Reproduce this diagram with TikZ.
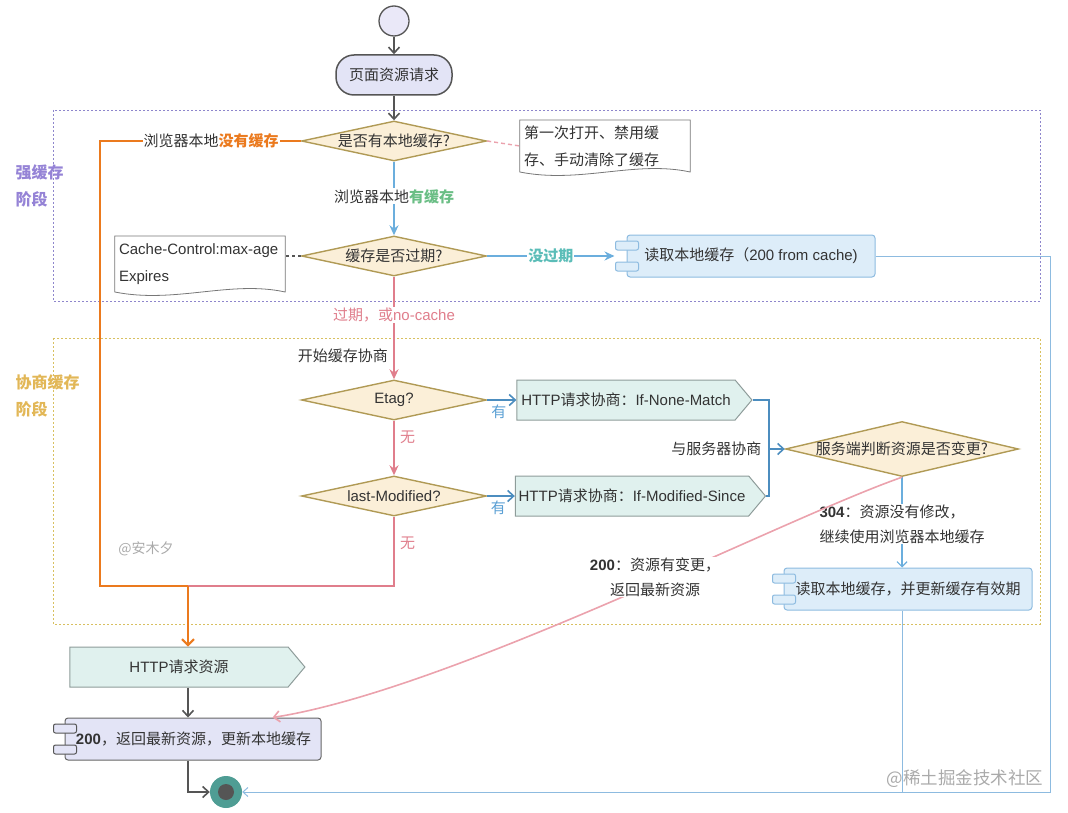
\documentclass[tikz,border=0pt]{standalone}
\usepackage{fontspec}
\setmainfont{Noto Sans CJK SC}
\newfontfamily\latfont{Liberation Sans}
\newcommand{\en}[1]{{\latfont #1}}
\usetikzlibrary{shapes.geometric,shapes.symbols,arrows.meta,calc}

\definecolor{txt}{HTML}{333333}
\definecolor{dgray}{HTML}{555555}
\definecolor{startfill}{HTML}{EAE8F8}
\definecolor{lavfill}{HTML}{E3E4F6}
\definecolor{askfill}{HTML}{FBEFD8}
\definecolor{askline}{HTML}{B09A55}
\definecolor{orng}{HTML}{EB7A1E}
\definecolor{skyline}{HTML}{6BAEDD}
\definecolor{skyfill}{HTML}{DDEDF9}
\definecolor{skyedge}{HTML}{8DBBE0}
\definecolor{steel}{HTML}{4C8DBF}
\definecolor{yesblue}{HTML}{5A9FD4}
\definecolor{rose}{HTML}{E07E8C}
\definecolor{roselight}{HTML}{EBA2AD}
\definecolor{leaf}{HTML}{6ABE85}
\definecolor{tealtxt}{HTML}{5BBDB8}
\definecolor{purp}{HTML}{9583D6}
\definecolor{purpdot}{HTML}{8E86CC}
\definecolor{goldt}{HTML}{E2B757}
\definecolor{golddot}{HTML}{D8C060}
\definecolor{mint}{HTML}{E0F1EE}
\definecolor{sigline}{HTML}{8E9C9A}
\definecolor{endfill}{HTML}{4F9D94}
\definecolor{wm}{HTML}{AAAAAA}

\begin{document}
\begin{tikzpicture}[x=1pt,y=-1pt,font=\fontsize{15}{18}\selectfont,text=txt]
  \tikzset{ start/.style={circle,draw=dgray,fill=startfill,line width=1.3pt,minimum size=30pt,inner sep=0pt},
    act/.style={rectangle,rounded corners=18pt,draw=dgray,fill=lavfill,line width=1.5pt,minimum width=116pt,minimum height=40pt},
    ask/.style={diamond,draw=askline,fill=askfill,line width=1.4pt,minimum width=185pt,minimum height=40pt,inner sep=0pt},
    sig/.style={signal,signal to=east,signal pointer angle=100,draw=sigline,fill=mint,line width=1pt,minimum height=40pt},
    comp/.style={rectangle,rounded corners=3pt,line width=1pt,minimum height=42pt},
    note/.style={align=left,text width=162pt,inner xsep=4pt,inner ysep=0pt,font=\fontsize{15}{27}\selectfont},
    paper/.style={draw=dgray!80,line width=0.8pt},
    stage/.style={anchor=west,align=left,font=\bfseries\fontsize{16}{27}\selectfont},
    tag/.style={fill=white,inner sep=1pt},
    barb/.style={-{Straight Barb[length=6pt,width=11pt,line width=1.6pt]}},
    sharp/.style={-{Stealth[length=10pt,width=9pt]}},
    gline/.style={draw=dgray,line width=1.5pt,barb},
    oline/.style={draw=orng,line width=2pt},
    bline/.style={draw=skyline,line width=1.6pt,sharp},
    dbline/.style={draw=steel,line width=1.6pt},
    pline/.style={draw=rose,line width=1.6pt},
    rline/.style={draw=skyedge,line width=1pt},
  }
  \useasboundingbox (0,0) rectangle (1068,813);

  % the two stages
  \draw[purpdot,line width=0.8pt,dash pattern=on 2pt off 2pt] (53,110) rectangle (1040,301);
  \draw[golddot,line width=0.8pt,dash pattern=on 2pt off 2pt] (53,338) rectangle (1040,624);
  \node[stage,text=purp] (strong) at (12,186) {强缓存\\阶段};
  \node[stage,text=goldt] (nego) at (12,396) {协商缓存\\阶段};

  \node[start] (s) at (394,21) {};
  \node[act] (page) at (394,75) {页面资源请求};
  \node[ask,label=center:{是否有本地缓存?}] (q1) at (394,141) {};
  \node[ask,label=center:{缓存是否过期?}] (q2) at (394,256) {};
  \node[note] (n1) at (605,146) {第一次打开、禁用缓\\存、手动清除了缓存};
  \node[note] (n2) at (200,264) {\en{Cache-Control:max-age}\\\en{Expires}};
  \node[comp,draw=skyedge,fill=skyfill,minimum width=248pt] (cache) at (751,256) {读取本地缓存（\en{200 from cache)}};

  \node[ask,label=center:{\en{Etag?}}] (etag) at (394,400) {};
  \node[ask,label=center:{\en{last-Modified?}}] (lm) at (394,496) {};
  \node[sig,minimum width=235pt] (match) at (626,400) {\en{HTTP}请求协商：\en{If-None-Match}};
  \node[sig,minimum width=248pt] (since) at (632,496) {\en{HTTP}请求协商：\en{If-Modified-Since}};
  \node[ask,minimum width=233pt,minimum height=55pt,label=center:{服务端判断资源是否变更?}] (q3) at (902,449) {};
  \node[comp,draw=skyedge,fill=skyfill,minimum width=248pt] (renew) at (908,589) {读取本地缓存，并更新缓存有效期};

  \node[sig,minimum width=235pt] (http) at (179,667) {\en{HTTP}请求资源};
  \node[comp,draw=dgray!90,fill=lavfill,minimum width=256pt,text width=236pt,align=right,inner xsep=5pt] (fresh) at (193,739) {\en{\textbf{200}}，返回最新资源，更新本地缓存};
  \node[circle,fill=endfill,minimum size=32pt,inner sep=0pt,
    path picture={\fill[dgray] (path picture bounding box.center) circle (8pt);}] (e) at (226,792) {};

  \node[text=wm,font=\fontsize{14}{16}\selectfont] (mark) at (146,549) {@安木夕};
  \node[text=wm,font=\fontsize{17.5}{20}\selectfont] (site) at (965,779) {@稀土掘金技术社区};

  % paper outlines and component tabs
  \foreach \n/\w in {n1/26,n2/28}
    \draw[paper] ($(\n.west)+(0,-\w)$) -| ($(\n.east)+(0,\w)$)
      .. controls +(-55,-12) and +(60,12) .. ($(\n.west)+(0,\w)$) -- cycle;
  \foreach \n/\f/\d in {cache/skyfill/skyedge,renew/skyfill/skyedge,fresh/lavfill/dgray} {
    \draw[draw=\d,fill=\f,line width=1pt,rounded corners=2pt] ($(\n.west)+(-11,-15)$) rectangle ++(23,9);
    \draw[draw=\d,fill=\f,line width=1pt,rounded corners=2pt] ($(\n.west)+(-11,6)$) rectangle ++(23,9);
  }

  \coordinate (join) at (188,586);
  \coordinate (fork) at (769,449);

  % the connection between the nodes
  \draw[gline] (s) -- (page);
  \draw[gline] (page) -- (q1);
  \draw[oline] (q1.west) -- ++(-201,0) |- (join);
  \node[tag] (nolocal) at (211,141) {浏览器本地\textcolor{orng}{\textbf{没有缓存}}};
  \draw[draw=roselight,line width=1.4pt,dash pattern=on 4pt off 3pt] (q1.east) -- (n1.west);
  \draw[bline] (q1) -- node[tag,pos=0.47] {浏览器本地\textcolor{leaf}{\textbf{有缓存}}} (q2);
  \draw[draw=dgray,line width=1.5pt,dash pattern=on 3pt off 3pt] (q2.west) -- (q2.west -| n2.east);
  \draw[bline] (q2.east) -- node[tag,text=tealtxt,font=\bfseries\fontsize{15}{18}\selectfont] {没过期} ($(cache.west)+(-12,0)$);
  \draw[rline,-{Straight Barb[length=5pt,width=9pt]}] (cache.east) -- ++(175,0) |- (e.east);

  \draw[pline,sharp] (q2.south) -- node[tag,pos=0.37,text=rose] {过期，或\en{no-cache}}
    node[pos=0.77,left=2pt] {开始缓存协商} (etag.north);
  \draw[dbline,barb] (etag.east) -- node[pos=0.4,below=1pt,text=yesblue] {有} (match.west);
  \draw[pline,sharp] (etag.south) -- node[pos=0.3,right=2pt,text=rose] {无} (lm.north);
  \draw[dbline,barb] (lm.east) -- node[pos=0.4,below=1pt,text=yesblue] {有} (since.west);
  \draw[pline] (lm.south) |- node[pos=0.19,right=2pt,text=rose] {无} (join);
  \draw[oline,-{Straight Barb[length=6pt,width=12pt,line width=2pt]}] (join) -- (http.north -| join);

  \draw[dbline] (match.east) -| (fork) |- (since.east);
  \draw[dbline,barb] (fork) -- (q3.west);
  \node[anchor=east] (srv) at ([xshift=-4pt]fork) {与服务器协商};
  \draw[draw=skyline,line width=1.2pt,-{Straight Barb[length=5pt,width=10pt]}] (q3.south) -- (q3.south |- renew.north);
  \node[tag,align=left,font=\fontsize{15}{25}\selectfont] (same) at (902,524) {\en{\textbf{304}}：资源没有修改，\\继续使用浏览器本地缓存};
  \draw[rline] (renew.south -| q3.south) -- (e.east -| q3.south);

  \draw[draw=roselight,line width=1.6pt,-{Straight Barb[length=6pt,width=11pt,line width=1.6pt]}] (q3.south)
    .. controls (780,520) and (450,690) .. ($(fresh.north east)+(-49,0)$);
  \node[tag,align=center,font=\fontsize{15}{25}\selectfont] (changed) at (655,577) {\en{\textbf{200}}：资源有变更，\\返回最新资源};

  \draw[gline] (http.south -| join) -- (fresh.north -| join);
  \draw[gline] (fresh.south -| join) |- (e.west);
\end{tikzpicture}
\end{document}
